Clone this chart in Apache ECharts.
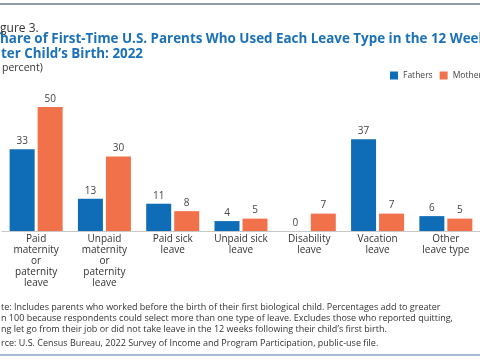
<!DOCTYPE html>
<html><head><meta charset="utf-8">
<script src="https://cdn.jsdelivr.net/npm/echarts@6/dist/echarts.min.js"></script>
<style>html,body{margin:0;padding:0;background:#fff;}#c{width:480px;height:360px;}</style>
</head><body><div id="c"></div>
<script>
var categories = ["Paid\nmaternity\nor\npaternity\nleave", "Unpaid\nmaternity\nor\npaternity\nleave", "Paid sick\nleave", "Unpaid sick\nleave", "Disability\nleave", "Vacation\nleave", "Other\nleave type"];
var fathers = [33, 13, 11, 4, 0, 37, 6];
var mothers = [50, 30, 8, 5, 7, 7, 5];
var seriesNames = ["Fathers", "Mothers"];

var FONT = "'Open Sans', 'Noto Sans', sans-serif";
var chart = echarts.init(document.getElementById('c'), null, {renderer: 'canvas'});
var lbl = {show: true, position: 'top', distance: 3, color: '#444', fontSize: 10, fontFamily: FONT};
chart.setOption({
  animation: false,
  backgroundColor: '#fff',
  textStyle: {fontFamily: FONT},
  grid: {left: 2, right: -10, top: 107, bottom: 129, containLabel: false},
  legend: {
    orient: 'horizontal', left: 385, top: 66, width: 200, itemWidth: 8, itemHeight: 8, itemGap: 7, icon: 'rect',
    textStyle: {fontSize: 8.5, color: '#444', fontFamily: FONT},
    data: seriesNames
  },
  xAxis: {
    type: 'category', data: categories,
    axisLine: {lineStyle: {color: '#c8c8c8', width: 1}},
    axisTick: {show: false},
    axisLabel: {interval: 0, color: '#333', fontSize: 10, lineHeight: 11, margin: 3, fontFamily: FONT}
  },
  yAxis: {type: 'value', min: 0, max: 50, show: false, splitLine: {show: false}},
  series: [
    {name: seriesNames[0], type: 'bar', data: fathers, barWidth: 25, barGap: '12%', itemStyle: {color: '#0f6cb6'}, label: lbl},
    {name: seriesNames[1], type: 'bar', data: mothers, barWidth: 25, itemStyle: {color: '#f0714a'}, label: lbl}
  ],
  graphic: [
    {type: 'line', shape: {x1: 0, y1: 4, x2: 480, y2: 4}, style: {stroke: '#6b7a8f', lineWidth: 1.5}},
    {type: 'text', left: 0, top: 23, style: {text: 'gure 3.', font: '12px ' + FONT, fill: '#333'}},
    {type: 'text', left: 0, top: 32.5, style: {text: 'hare of First-Time U.S. Parents Who Used Each Leave Type in the 12 Weeks', font: 'bold 13.4px ' + FONT, fill: '#1a71b8'}},
    {type: 'text', left: 1, top: 47.5, style: {text: 'ter Child\u2019s Birth: 2022', font: 'bold 13.4px ' + FONT, fill: '#1a71b8'}},
    {type: 'text', left: 2, top: 63, style: {text: 'percent)', font: '10.5px ' + FONT, fill: '#333'}},
    {type: 'text', left: 1, top: 303, style: {text: 'te: Includes parents who worked before the birth of their first biological child. Percentages add to greater', font: '9px ' + FONT, fill: '#333'}},
    {type: 'text', left: 1, top: 314, style: {text: 'n 100 because respondents could select more than one type of leave. Excludes those who reported quitting,', font: '9px ' + FONT, fill: '#333'}},
    {type: 'text', left: 1, top: 324.5, style: {text: 'ng let go from their job or did not take leave in the 12 weeks following their child\u2019s first birth.', font: '9px ' + FONT, fill: '#333'}},
    {type: 'text', left: 1, top: 338.5, style: {text: 'rce: U.S. Census Bureau, 2022 Survey of Income and Program Participation, public-use file.', font: '9px ' + FONT, fill: '#333'}},
    {type: 'line', shape: {x1: 0, y1: 355, x2: 480, y2: 355}, style: {stroke: '#4a78ad', lineWidth: 1.2}}
  ]
});
</script></body></html>
